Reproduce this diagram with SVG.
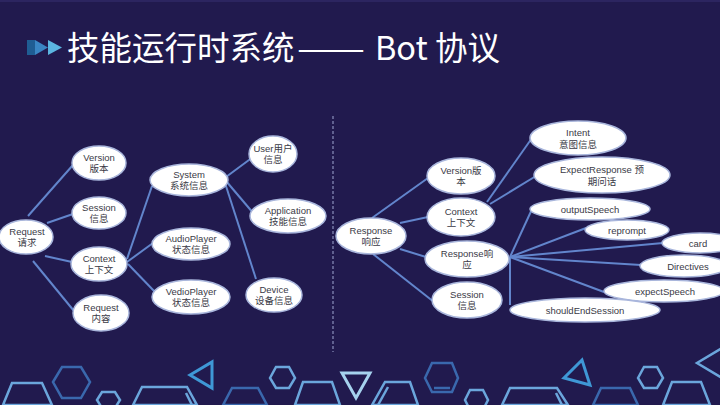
<svg xmlns="http://www.w3.org/2000/svg" width="720" height="405" viewBox="0 0 720 405">
<style>
.bg{fill:#211a4e}
.n ellipse{fill:#ffffff;stroke:#a9b6dc;stroke-width:1.5}
.n text{font-family:"Liberation Sans","Noto Sans CJK SC",sans-serif;font-size:9.5px;fill:#3a3a46;text-anchor:middle}
.c path{stroke:#6285cc;stroke-width:2;fill:none}
.title{font-family:"Noto Sans CJK SC","Noto Sans",sans-serif;font-size:32.5px;fill:#ffffff}
.deco{fill:none;stroke-width:2.5}
.lt{stroke:#6ba6dc}
.dk{stroke:#3a68ad}
.md{stroke:#3f98d6;stroke-width:3}
.pl{stroke:#a6d2ee;stroke-width:3}
</style>
<rect class="bg" x="0" y="0" width="720" height="405"/>
<rect x="0" y="0" width="720" height="2" fill="#2c2560"/>

<g id="title">
<rect x="27" y="40" width="8" height="15" fill="#1f5d93"/>
<polygon points="35,40 35,55 48,47.5" fill="#3a86c4"/>
<polygon points="48,40 48,55 62,47.5" fill="#5cb6e2"/>
<text class="title" y="60"><tspan x="67">技能运行时系统</tspan><tspan x="297" textLength="68" lengthAdjust="spacingAndGlyphs">——</tspan><tspan x="375">Bot</tspan><tspan x="435">协议</tspan></text>
</g>

<line x1="333" y1="116" x2="333" y2="352" stroke="#8a90bc" stroke-width="1.2" stroke-dasharray="3,2"/>

<g id="connectors" class="c">
<path d="M28,216 L73,165"/>
<path d="M47,223 L73,214"/>
<path d="M45,256 L72,262"/>
<path d="M33,261 L74,311"/>
<path d="M127,259 L152,186"/>
<path d="M127,262 L153,243"/>
<path d="M128,264 L155,292"/>
<path d="M226,177 L253,157"/>
<path d="M226,181 L254,214"/>
<path d="M225,183 L256,279"/>
<path d="M372,218 L428,178"/>
<path d="M400,223 L428,217"/>
<path d="M400,249 L426,257"/>
<path d="M373,254 L434,302"/>
<path d="M487,202 L532,138"/>
<path d="M490,204 L536,176"/>
<path d="M510,257 L533,207"/>
<path d="M510,257 L586,228"/>
<path d="M510,257 L663,243"/>
<path d="M510,257 L641,265"/>
<path d="M510,257 L604,292"/>
<path d="M510,257 L510,305"/>
</g>

<g id="request" class="n"><ellipse cx="26" cy="237" rx="27" ry="17"/><text x="27" y="235">Request</text><text x="27" y="246">请求</text></g>
<g id="version" class="n"><ellipse cx="99" cy="163" rx="27" ry="17"/><text x="99" y="161">Version</text><text x="99" y="172">版本</text></g>
<g id="session" class="n"><ellipse cx="99" cy="213" rx="27" ry="16"/><text x="99" y="211">Session</text><text x="99" y="222">信息</text></g>
<g id="context" class="n"><ellipse cx="99" cy="264" rx="28" ry="17"/><text x="99" y="262">Context</text><text x="99" y="273">上下文</text></g>
<g id="request-content" class="n"><ellipse cx="101" cy="313" rx="28" ry="18"/><text x="101" y="311">Request</text><text x="101" y="322">内容</text></g>
<g id="system" class="n"><ellipse cx="189" cy="180" rx="39" ry="16"/><text x="189" y="178">System</text><text x="189" y="189">系统信息</text></g>
<g id="audioplayer" class="n"><ellipse cx="191" cy="244" rx="39" ry="16"/><text x="191" y="242">AudioPlayer</text><text x="191" y="253">状态信息</text></g>
<g id="vedioplayer" class="n"><ellipse cx="191" cy="297" rx="39" ry="17"/><text x="191" y="295">VedioPlayer</text><text x="191" y="306">状态信息</text></g>
<g id="user" class="n"><ellipse cx="273" cy="154" rx="24" ry="18"/><text x="273" y="152">User用户</text><text x="273" y="163">信息</text></g>
<g id="application" class="n"><ellipse cx="288" cy="216" rx="38" ry="17"/><text x="288" y="214">Application</text><text x="288" y="225">技能信息</text></g>
<g id="device" class="n"><ellipse cx="274" cy="295" rx="28" ry="17"/><text x="274" y="293">Device</text><text x="274" y="304">设备信息</text></g>

<g id="response" class="n"><ellipse cx="371" cy="236" rx="35" ry="18"/><text x="371" y="234">Response</text><text x="371" y="245">响应</text></g>
<g id="r-version" class="n"><ellipse cx="461" cy="176" rx="34" ry="18"/><text x="461" y="174">Version版</text><text x="461" y="185">本</text></g>
<g id="r-context" class="n"><ellipse cx="461" cy="217" rx="34" ry="19"/><text x="461" y="215">Context</text><text x="461" y="226">上下文</text></g>
<g id="r-response" class="n"><ellipse cx="467" cy="259" rx="42" ry="18"/><text x="467" y="257">Response响</text><text x="467" y="268">应</text></g>
<g id="r-session" class="n"><ellipse cx="467" cy="300" rx="35" ry="18"/><text x="467" y="298">Session</text><text x="467" y="309">信息</text></g>
<g id="intent" class="n"><ellipse cx="578" cy="138" rx="48" ry="17"/><text x="578" y="136">Intent</text><text x="578" y="148">意图信息</text></g>
<g id="expectresponse" class="n"><ellipse cx="602" cy="175" rx="68" ry="18"/><text x="602" y="173">ExpectResponse 预</text><text x="602" y="185">期问话</text></g>
<g id="outputspeech" class="n"><ellipse cx="590" cy="209" rx="60" ry="11"/><text x="590" y="212.5">outputSpeech</text></g>
<g id="reprompt" class="n"><ellipse cx="627" cy="230" rx="42" ry="10"/><text x="627" y="233.5">reprompt</text></g>
<g id="card" class="n"><ellipse cx="700" cy="243" rx="38" ry="10"/><text x="698" y="246.5">card</text></g>
<g id="directives" class="n"><ellipse cx="684" cy="266" rx="44" ry="11"/><text x="688" y="269.5">Directives</text></g>
<g id="expectspeech" class="n"><ellipse cx="664" cy="291" rx="60" ry="11"/><text x="665" y="294.5">expectSpeech</text></g>
<g id="shouldendsession" class="n"><ellipse cx="585" cy="310" rx="75" ry="12"/><text x="585" y="313.5">shouldEndSession</text></g>

<g id="decoration" class="deco">
<polygon class="lt" points="3,405 12,383 42,383 52,405"/>
<polygon class="dk" points="53,382 62,367 81,367 90,382 81,398 62,398"/>
<polygon class="lt" points="97,400 102,392 115,392 120,400 115,408 102,408"/>
<polygon class="lt" points="133,405 142,387 187,387 197,405"/>
<line class="lt" x1="186" y1="393" x2="192" y2="405"/>
<polygon class="md" points="190,375 212,362 212,388"/>
<polygon class="dk" points="223,405 232,388 258,388 267,405"/>
<polygon class="lt" points="270,378 276,367 289,367 295,378 289,388 276,388"/>
<polygon class="lt" points="295,405 303,382 332,382 340,405"/>
<polygon class="pl" points="342,373 370,373 356,398"/>
<polygon class="lt" points="372,405 385,382 410,382 418,405"/>
<line class="lt" x1="378" y1="405" x2="388" y2="387"/>
<polygon class="dk" points="425,378 432,363 452,363 458,378 452,392 432,392"/>
<line class="dk" x1="434" y1="388" x2="450" y2="388"/>
<polygon class="lt" points="465,400 470,390 483,390 488,400 483,410 470,410"/>
<polygon class="lt" points="502,405 510,388 557,388 568,405"/>
<line class="lt" x1="556" y1="393" x2="562" y2="405"/>
<polygon class="md" points="582,360 564,378 590,385"/>
<polygon class="dk" points="593,405 601,388 630,388 638,405"/>
<polygon class="lt" points="638,378 644,367 657,367 663,378 657,388 644,388"/>
<polygon class="lt" points="663,405 672,382 701,382 710,405"/>
<polyline class="lt" points="722,348 697,363 722,378"/>
</g>
</svg>
